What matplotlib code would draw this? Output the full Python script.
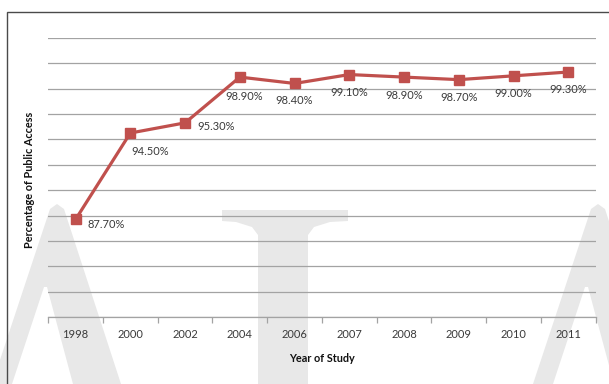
import matplotlib
matplotlib.use("Agg")
import matplotlib.pyplot as plt
from matplotlib.patches import Polygon, Rectangle

# --- data ---
years = ["1998", "2000", "2002", "2004", "2006", "2007", "2008", "2009", "2010", "2011"]
access_pct = [87.7, 94.5, 95.3, 98.9, 98.4, 99.1, 98.9, 98.7, 99.0, 99.3]

# label placement (pixel offsets from each marker), as in the original layout
label_offsets = [(31, -5), (20, -18), (31, -4), (4, -19), (0, -17),
                 (0, -18), (0, -18), (0, -18), (0, -18), (0, -17)]

W, H = 609, 384
RED = "#C0504D"
GRID = "#A3A3A3"
TXT = "#3A3A3A"
plt.rcParams["font.family"] = ["Lato", "DejaVu Sans"]

fig = plt.figure(figsize=(W / 100, H / 100), dpi=100)
ax = fig.add_axes([48.2 / W, 1 - 317.3 / H, 547.5 / W, 279.6 / H])
ax.set_facecolor("none")


def px(points):
    # pixel coords (from top-left) -> figure fraction
    return [(x / W, 1 - y / H) for x, y in points]


# faint background watermark
wm = "#E8E8E8"
left_a = [(-8, 384), (50, 209), (57, 204), (64, 209), (121, 384), (73, 384),
          (47, 287), (44, 287), (12, 384)]
right_a = [(x + 541, y) for x, y in left_a]
tee = [(222, 210), (348, 210), (348, 221), (330, 222), (314, 227), (308, 235),
       (308, 384), (258, 384), (258, 235), (252, 227), (236, 222), (222, 221)]
for shape in (left_a, right_a, tee):
    fig.patches.append(Polygon(px(shape), closed=True, transform=fig.transFigure,
                               facecolor=wm, edgecolor="none", zorder=-1))

# outer frame (right and bottom sides fall outside the picture)
fig.patches.append(Rectangle((6.5 / W, -0.1), 1.2, 1 - 12 / H + 0.1,
                             transform=fig.transFigure, fill=False,
                             edgecolor="#4A4A4A", linewidth=1.0, zorder=3))

x = list(range(len(years)))
ax.plot(x, access_pct, color=RED, linewidth=2.3, marker="s", markersize=7.5,
        zorder=3, clip_on=False)

for xi, v, (dx, dy) in zip(x, access_pct, label_offsets):
    ax.annotate(f"{v:.2f}%", (xi, v), xytext=(dx, dy), textcoords="offset pixels",
                ha="center", va="center", fontsize=8, color=TXT)

ax.set_xlim(-0.5, len(years) - 0.5)
ax.set_ylim(80, 102)
ax.set_yticks(range(80, 103, 2))
ax.set_yticklabels([])
ax.yaxis.grid(True, color=GRID, linewidth=0.9)
ax.set_axisbelow(True)
ax.tick_params(axis="y", length=0)

ax.set_xticks(x)
ax.set_xticklabels(years, fontsize=8, color=TXT)
ax.set_xticks([i - 0.5 for i in range(len(years) + 1)], minor=True)
ax.tick_params(axis="x", which="major", length=0, pad=8.5)
ax.tick_params(axis="x", which="minor", length=4, color=GRID, width=0.9)

for side in ("left", "right", "top"):
    ax.spines[side].set_visible(False)
ax.spines["bottom"].set_color(GRID)
ax.spines["bottom"].set_linewidth(0.9)

fig.text(29.6 / W, 1 - 180 / H, "Percentage of Public Access", rotation=90,
         ha="center", va="center", fontsize=7.8, fontweight="bold", color="#111111")
fig.text(322 / W, 1 - 358 / H, "Year of Study", ha="center", va="center",
         fontsize=7.8, fontweight="bold", color="#111111")

fig.savefig("out.png", dpi=100)
